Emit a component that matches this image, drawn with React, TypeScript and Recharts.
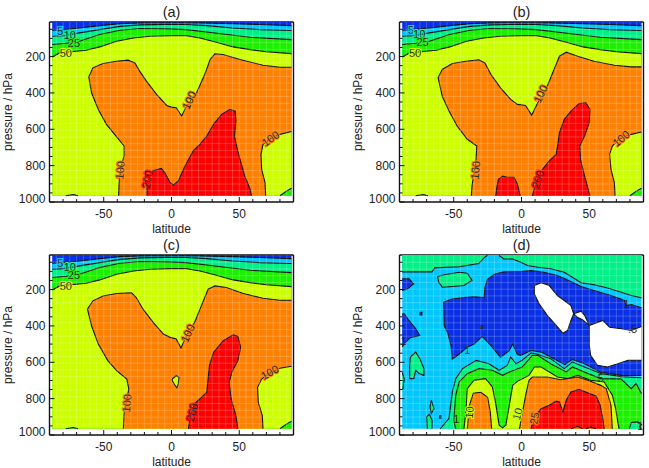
import { ComposedChart, Curve, Scatter, XAxis, YAxis } from 'recharts'

type Pt = number[]
type Tag = [number, number, string, number]

const BLUE = '#0a30e6'
const CYAN = '#00c8ff'
const SPRING = '#00f088'
const GREEN = '#1cf000'
const YELLOW = '#ccff00'
const ORANGE = '#ff8000'
const RED = '#ff0000'
const WHITE = '#ffffff'
const INK = '#222222'
const FONT = '"Liberation Sans", Arial, sans-serif'

const LAT_DOMAIN = [-90, 90]
const P_DOMAIN = [10, 1000]
const LAT_TICKS = [-90, -80, -70, -60, -50, -40, -30, -20, -10, 0, 10, 20, 30, 40, 50, 60, 70, 80, 90]
const LAT_LABELS = [-50, 0, 50]
const P_TICKS = [50, 100, 150, 200, 250, 300, 350, 400, 450, 500, 550, 600, 650, 700, 750, 800, 850, 900, 950, 1000]
const P_LABELS = [200, 400, 600, 800, 1000]

const FIELD: Pt[] = [[-88, 10], [88.5, 10], [88.5, 966], [-88, 966]]
const BELOW: Pt[] = [[88.5, 966], [-88, 966]]
const GRID_LATS = [-85, -80, -75, -70, -65, -60, -55, -50, -45, -40, -35, -30, -25, -20, -15, -10, -5, 0, 5, 10, 15, 20, 25, 30, 35, 40, 45, 50, 55, 60, 65, 70, 75, 80, 85]
const GRID_PS = [50, 87, 124, 161, 198, 235, 272, 309, 346, 383, 420, 457, 494, 531, 568, 605, 642, 679, 716, 753, 790, 827, 864, 901, 938]

// contours shared by (a), (b), (c)
const TOP_5: Pt[] = [[-88, 55], [-80, 52], [-68, 43], [-53, 30], [-38, 19], [-23, 15], [0, 14], [21, 15], [46, 19], [65, 24], [88.5, 30]]
const TOP_10: Pt[] = [[-88, 88], [-78, 85], [-68, 70], [-53, 52], [-38, 34], [-23, 26], [-4, 23], [11, 24], [26, 30], [45, 43], [65, 52], [88.5, 57]]
const TOP_25: Pt[] = [[-88, 134], [-78, 127], [-68, 116], [-53, 79], [-38, 55], [-23, 46], [-4, 48], [11, 52], [26, 65], [41, 79], [58, 94], [88.5, 107]]
const TOP_50: Pt[] = [[-88, 202], [-82.5, 180], [-74, 174], [-63, 165], [-53, 147], [-40.5, 116], [-28, 98], [-16, 88], [0, 85], [11, 85], [21, 98], [33, 121], [45.5, 147], [58, 162], [70, 174], [88.5, 184]]
const LOW_BUMP: Pt[] = [[-78, 966], [-72.5, 959], [-69, 966]]
const LOW_CORNER: Pt[] = [[80, 966], [85, 939], [88.5, 924]]

const A_100: Pt[] = [[-39, 966], [-38.5, 875], [-37, 802], [-35, 747], [-35, 692], [-42, 628], [-48, 573], [-54, 491], [-59, 399], [-61, 312], [-58, 262], [-50.5, 238], [-40.5, 226], [-32, 220], [-27, 235], [-23.5, 280], [-18.5, 335], [-11, 408], [-3.5, 469], [0, 478], [3.5, 482], [7.5, 527], [11, 473], [18.5, 399], [24.5, 299], [28.5, 216], [32, 185], [38, 189], [50.5, 216], [67.5, 248], [80, 259], [88.5, 259]]
const A_100_RIGHT: Pt[] = [[88.5, 612], [80, 628], [72.5, 655], [67.5, 683], [66, 738], [66.5, 820], [69, 893], [69.5, 966]]
const A_200: Pt[] = [[-18, 966], [-18, 911], [-16, 857], [-14, 829], [-7.5, 815], [-5, 838], [-1, 893], [1.5, 906], [5, 884], [10, 802], [16, 719], [21, 683], [26, 637], [31, 573], [37, 518], [43, 491], [47, 500], [47.5, 555], [46.5, 637], [48, 692], [50.5, 765], [54, 857], [58, 930], [59, 966]]
const A_TAGS: Tag[] = [[-82, 58, '5', 0], [-75, 82, '10', 0], [-72, 125, '25', 0], [-78, 182, '50', 0], [13, 440, '100', -65], [73, 650, '100', -35], [-38, 825, '100', -85], [-18, 875, '200', -80]]

const B_100: Pt[] = [[-37, 966], [-36.5, 911], [-33.5, 765], [-33, 692], [-40, 655], [-47.5, 582], [-53.5, 500], [-58.5, 418], [-61.5, 317], [-58.5, 271], [-51, 238], [-41, 226], [-31.5, 218], [-27, 235], [-22.5, 299], [-15.5, 372], [-8, 436], [-3, 463], [3, 469], [7.5, 522], [12, 454], [18, 381], [24, 271], [28, 198], [33, 176], [41.5, 198], [53.5, 226], [68.5, 248], [81, 257], [88.5, 257]]
const B_100_RIGHT: Pt[] = [[88.5, 615], [81, 628], [72, 655], [67, 692], [65, 738], [66, 820], [68.5, 893], [69, 966]]
const B_200_LEFT: Pt[] = [[-19, 966], [-18, 911], [-17, 875], [-14, 858], [-10.5, 864], [-5.5, 864], [-3, 902], [-1, 966]]
const B_200_RIGHT: Pt[] = [[8, 966], [10, 911], [14.5, 829], [20.5, 774], [25.5, 738], [27, 674], [28, 619], [31.5, 546], [36.5, 500], [42.5, 458], [47.5, 454], [50.5, 491], [50, 564], [46.5, 637], [43, 692], [43.5, 765], [46.5, 857], [50.5, 966]]
const B_TAGS: Tag[] = [[-81.5, 52, '5', 0], [-75.5, 78, '10', 0], [-73, 122, '25', 0], [-78.5, 182, '50', 0], [14, 405, '100', -65], [73.5, 650, '100', -40], [-34, 825, '100', -85], [12, 875, '200', -70]]

const C_100: Pt[] = [[-35.5, 966], [-35, 884], [-33.5, 820], [-31.5, 747], [-33, 692], [-40.5, 646], [-47, 591], [-54, 500], [-59, 399], [-62, 308], [-58, 262], [-50.5, 235], [-40.5, 222], [-29.5, 218], [-26, 244], [-21, 308], [-13.5, 381], [-6, 445], [-1, 463], [3.5, 472], [7, 522], [11, 454], [17, 381], [22, 290], [27, 198], [32, 180], [40.5, 189], [53, 222], [67.5, 248], [80, 259], [88.5, 259]]
const C_100_RIGHT: Pt[] = [[88.5, 622], [80, 633], [71.5, 665], [66.5, 692], [63.5, 738], [64, 820], [67, 893], [67.5, 966]]
const C_ISLAND: Pt[] = [[0.5, 692], [3.5, 674], [5.5, 683], [5, 719], [4, 741], [2.5, 725], [0.5, 701], [0.5, 692]]
const C_200: Pt[] = [[12.5, 966], [14, 893], [17, 829], [26, 765], [27, 692], [28, 619], [31, 546], [38, 482], [45.5, 449], [49, 458], [51, 518], [49, 591], [44.5, 655], [42.5, 710], [44, 802], [47.5, 893], [49, 966]]
const C_TAGS: Tag[] = [[-82, 55, '5', 0], [-75, 78, '10', 0], [-72, 122, '25', 0], [-78, 180, '50', 0], [12, 440, '100', -65], [72.5, 655, '100', -30], [-33, 825, '100', -85], [15, 875, '200', -75]]

const D_TOP_LEFT: Pt[] = [[-88, 103], [-74.5, 103], [-66, 103], [-64, 81], [-46, 75], [-31.5, 57], [-27.5, 24], [-25, 11]]
const D_TOP_RIGHT: Pt[] = [[-16.5, 13], [-13, 32], [-6.5, 32], [-0.5, 50], [4.5, 68], [12, 77], [21.5, 86], [31.5, 105], [37.5, 132], [44, 163], [53.5, 174], [63.5, 191], [73.5, 215], [81, 233], [88.5, 246]]
const D_ISLE_TOP: Pt[] = [[-62, 128], [-56, 117], [-46, 105], [-40, 110], [-36.5, 150], [-42.5, 178], [-51, 183], [-58.5, 187], [-61, 160], [-62, 128]]
const D_ISLE_MID: Pt[] = [[-82, 571], [-78, 544], [-75, 580], [-72, 635], [-72, 672], [-75.5, 662], [-78, 644], [-79.5, 690], [-82.5, 690], [-82.5, 617], [-82, 571]]
const D_ISLE_SLIVER: Pt[] = [[-66.5, 809], [-64.5, 855], [-66.5, 882], [-67.5, 845], [-66.5, 809]]
const D_ISLE_LOW: Pt[] = [[-69.5, 966], [-70, 900], [-68, 887], [-66, 918], [-66, 966]]
const D_ISLE_EDGE: Pt[] = [[-88, 655], [-86.5, 692], [-87.5, 747], [-88, 747]]
const D_ISLE_RIGHT: Pt[] = [[79.5, 966], [81, 931], [85.5, 928], [88.5, 942], [87, 955], [88.5, 966]]
const D_BLUE: Pt[] = [[88.5, 673], [73.5, 672], [58.5, 655], [46.5, 608], [37.5, 584], [32, 613], [21.5, 571], [14.5, 544], [7, 535], [-0.5, 562], [-3, 558], [-6.5, 500], [-9, 536], [-15.5, 573], [-22.5, 509], [-29, 458], [-35, 500], [-40, 518], [-47.5, 564], [-51, 582], [-52, 509], [-54.5, 436], [-57, 399], [-57.5, 271], [-52, 253], [-42.5, 244], [-35, 240], [-27.5, 244], [-27, 189], [-25, 143], [-20, 116], [-13, 103], [-0.5, 101], [7, 96], [16.5, 105], [26.5, 123], [34, 147], [44, 183], [53.5, 205], [66, 233], [76, 260], [77, 288], [81, 282], [88.5, 300]]
const D_BLUE_LEFT: Pt[] = [[-88, 334], [-86.5, 334], [-83, 370], [-78, 416], [-75, 452], [-82, 465], [-86.5, 498], [-88, 516]]
const D_BLUE_CORNER: Pt[] = [[-88, 141], [-83, 141], [-79.5, 169], [-84, 196], [-88, 205]]
const D_DOT_A: Pt[] = [[-75, 325], [-73.5, 325], [-73.5, 340], [-75, 340], [-75, 325]]
const D_DOT_B: Pt[] = [[-30, 400], [-29, 400], [-29, 416], [-30, 416], [-30, 400]]
const D_DOT_C: Pt[] = [[-60.5, 893], [-59.5, 893], [-59.5, 907], [-60.5, 907], [-60.5, 893]]
const D_1: Pt[] = [[-60, 966], [-53.5, 910], [-51, 763], [-48.5, 690], [-43.5, 635], [-33.5, 590], [-24, 608], [-16.5, 644], [-10.5, 617], [-8, 571], [-4, 608], [0.5, 589], [7, 549], [10.5, 553], [21.5, 580], [31.5, 635], [37.5, 599], [46.5, 626], [58.5, 662], [73.5, 679], [88.5, 685]]
const D_2: Pt[] = [[-48.5, 966], [-50, 919], [-48.5, 781], [-46, 708], [-40, 663], [-31.5, 635], [-21.5, 644], [-14, 672], [-9, 653], [-5.5, 644], [0.5, 626], [8, 562], [12, 562], [21.5, 608], [33, 653], [37.5, 626], [49, 662], [58.5, 690], [73.5, 692], [81, 745], [84.5, 717], [88.5, 772]]
const D_3: Pt[] = [[-42.5, 966], [-41, 873], [-40, 745], [-35, 699], [-26.5, 690], [-21.5, 736], [-19, 827], [-16.5, 946], [-14, 961], [-11.5, 946], [-9, 836], [-6.5, 727], [-3, 705], [5.5, 672], [9.5, 626], [14.5, 626], [26.5, 681], [34, 690], [41.5, 672], [51, 699], [61, 708], [67, 781], [69.5, 855], [71, 928], [72, 966]]
const D_4_LEFT: Pt[] = [[-40, 966], [-38.5, 838], [-35.5, 770], [-30, 765], [-25, 793], [-23, 875], [-22, 966]]
const D_4_MAIN: Pt[] = [[-1.5, 966], [0.5, 884], [3, 783], [5.5, 699], [8, 681], [19, 681], [29, 696], [41.5, 681], [49, 699], [58.5, 727], [62.5, 745], [66, 836], [67, 966]]
const D_5: Pt[] = [[7, 966], [9.5, 900], [14.5, 855], [20.5, 836], [25.5, 814], [28, 818], [30.5, 873], [33, 809], [36.5, 763], [42.5, 749], [50, 772], [55, 785], [58, 836], [60, 910], [61, 966]]
const D_BUMP_A: Pt[] = [[36.5, 966], [41.5, 953], [45, 966]]
const D_BUMP_B: Pt[] = [[47.5, 966], [51, 957], [55, 966]]
const D_HOLE_A: Pt[] = [[9.5, 178], [14.5, 163], [20.5, 178], [26.5, 233], [31.5, 260], [36.5, 288], [38.5, 333], [36.5, 370], [34, 425], [30.5, 440], [25.5, 397], [19, 342], [13, 278], [9.5, 224], [9.5, 178]]
const D_HOLE_B: Pt[] = [[38.5, 333], [44, 319], [46.5, 342], [50, 397], [45, 366], [41.5, 354], [38.5, 333]]
const D_HOLE_C: Pt[] = [[88.5, 589], [78.5, 589], [71, 608], [63.5, 626], [56, 617], [51, 562], [50, 507], [50, 397], [60, 370], [65, 407], [73.5, 416], [81, 425], [88.5, 403]]
const D_TAGS: Tag[] = [[77.5, 277, '1', 0], [82, 418, '.5', 0], [-40, 533, '1', 0], [58.5, 688, '5', 0], [-48, 911, '1', 0], [-38.5, 875, '10', -85], [-3, 884, '10', -75], [9.5, 908, '25', -80], [-87, 481, '1', 0], [87.5, 952, '1', 0]]

const HALO: Record<string, string> = { '5': CYAN, '10': SPRING, '25': GREEN, '50': YELLOW, '100': ORANGE, '200': RED }
const HALO_D: Record<string, string> = { '10': YELLOW, '25': ORANGE }

const toPoints = (pts: Pt[]) => pts.map(([lat, p]) => ({ lat, p }))
const noDot = () => <g />

function Region({ contour = [], closure = [], fill }: { contour?: Pt[]; closure?: Pt[]; fill?: string }) {
  const drawn = contour.length
  return (
    <Scatter
      data={toPoints([...contour, ...closure])}
      isAnimationActive={false}
      shape={noDot}
      line={(props: any) => (
        <g>
          {fill && <Curve points={props.points} type="linearClosed" fill={fill} stroke="none" />}
          {drawn > 0 && (
            <Curve points={props.points.slice(0, drawn)} type="linear" fill="none" stroke="#111" strokeWidth={1.1} />
          )}
        </g>
      )}
    />
  )
}

// the pale cell edges of the contour fill
function CellLines() {
  const pts = [
    ...GRID_LATS.flatMap((lat) => [[lat, 10], [lat, 966]]),
    ...GRID_PS.flatMap((p) => [[-88, p], [88.5, p]]),
  ]
  return (
    <Scatter
      data={toPoints(pts)}
      isAnimationActive={false}
      shape={noDot}
      line={(props: any) => {
        let d = ''
        props.points.forEach((q: any, i: number) => {
          d += `${i % 2 ? 'L' : 'M'}${q.x} ${q.y}`
        })
        return <path d={d} stroke="#fff" strokeOpacity={0.2} strokeWidth={1} fill="none" />
      }}
    />
  )
}

function Tags({ tags, halo }: { tags: Tag[]; halo: Record<string, string> }) {
  const data = tags.map(([lat, p, text, angle]) => ({ lat, p, text, angle }))
  return (
    <Scatter
      data={data}
      isAnimationActive={false}
      shape={(props: any) => (
        <text
          x={props.cx}
          y={props.cy}
          transform={`rotate(${props.payload.angle} ${props.cx} ${props.cy})`}
          textAnchor="middle"
          dominantBaseline="central"
          fontFamily={FONT}
          fontSize={11}
          fill={INK}
          stroke={halo[props.payload.text] ?? 'none'}
          strokeWidth={2}
          style={{ paintOrder: 'stroke' }}
        >
          {props.payload.text}
        </text>
      )}
    />
  )
}

const latTick = (side: 'bottom' | 'top') => (props: any) => {
  const major = LAT_LABELS.includes(props.payload.value)
  const len = (major ? 5 : 3) * (side === 'bottom' ? -1 : 1)
  return (
    <g>
      <line x1={props.x} x2={props.x} y1={props.y} y2={props.y + len} stroke="#111" />
      {side === 'bottom' && major && (
        <text x={props.x} y={props.y + 16} textAnchor="middle" fontFamily={FONT} fontSize={12} fill={INK}>
          {props.payload.value}
        </text>
      )}
    </g>
  )
}

const pTick = (side: 'left' | 'right') => (props: any) => {
  const major = P_LABELS.includes(props.payload.value)
  const len = (major ? 5 : 3) * (side === 'left' ? 1 : -1)
  return (
    <g>
      <line x1={props.x} x2={props.x + len} y1={props.y} y2={props.y} stroke="#111" />
      {side === 'left' && major && (
        <text
          x={props.x - 4}
          y={props.y + (props.payload.value === 1000 ? 1 : 4)}
          textAnchor="end"
          fontFamily={FONT}
          fontSize={12}
          fill={INK}
        >
          {props.payload.value}
        </text>
      )}
    </g>
  )
}

function Panel({ title, left, top, children }: { title: string; left: number; top: number; children: any }) {
  const frame = { stroke: '#111', strokeWidth: 1.4 }
  const labelStyle = { fontFamily: FONT, fontSize: 12, fill: INK }
  return (
    <div style={{ position: 'absolute', left, top }}>
      <ComposedChart width={310} height={236} margin={{ top: 21, right: 15.5, bottom: 0, left: 0 }}>
        <XAxis
          dataKey="lat"
          type="number"
          domain={LAT_DOMAIN}
          ticks={LAT_TICKS}
          interval={0}
          height={34}
          tickSize={0}
          tickMargin={0}
          axisLine={frame}
          tick={latTick('bottom')}
          label={{ value: 'latitude', position: 'insideBottom', offset: 3, style: labelStyle }}
        />
        <XAxis
          xAxisId="top"
          orientation="top"
          type="number"
          domain={LAT_DOMAIN}
          ticks={LAT_TICKS}
          interval={0}
          height={1}
          tickSize={0}
          tickMargin={0}
          axisLine={frame}
          tick={latTick('top')}
          label={{ value: title, position: 'top', offset: 4, style: { ...labelStyle, fontSize: 14.5 } }}
        />
        <YAxis
          dataKey="p"
          type="number"
          reversed
          domain={P_DOMAIN}
          ticks={P_TICKS}
          interval={0}
          width={49.5}
          tickSize={0}
          tickMargin={0}
          axisLine={frame}
          tick={pTick('left')}
          label={{ value: 'pressure / hPa', angle: -90, position: 'insideLeft', offset: 7.5, style: { ...labelStyle, textAnchor: 'middle' } }}
        />
        <YAxis
          yAxisId="right"
          orientation="right"
          type="number"
          reversed
          domain={P_DOMAIN}
          ticks={P_TICKS}
          interval={0}
          width={1}
          tickSize={0}
          tickMargin={0}
          axisLine={frame}
          tick={pTick('right')}
        />
        {children}
        <CellLines />
      </ComposedChart>
    </div>
  )
}

function Upper() {
  return (
    <>
      <Region closure={FIELD} fill={BLUE} />
      <Region contour={TOP_5} closure={BELOW} fill={CYAN} />
      <Region contour={TOP_10} closure={BELOW} fill={SPRING} />
      <Region contour={TOP_25} closure={BELOW} fill={GREEN} />
      <Region contour={TOP_50} closure={BELOW} fill={YELLOW} />
    </>
  )
}

function Corners() {
  return (
    <>
      <Region contour={LOW_BUMP} fill={GREEN} />
      <Region contour={LOW_CORNER} closure={[[88.5, 966]]} fill={GREEN} />
    </>
  )
}

export default function App() {
  return (
    <div style={{ position: 'absolute', left: 0, top: 0, width: 649, height: 468, background: '#fff', overflow: 'hidden' }}>
      <Panel title="(a)" left={0} top={0}>
        <Upper />
        <Region contour={A_100} closure={A_100_RIGHT} fill={ORANGE} />
        <Region contour={A_100_RIGHT} />
        <Region contour={A_200} fill={RED} />
        <Corners />
        <Tags tags={A_TAGS} halo={HALO} />
      </Panel>
      <Panel title="(b)" left={349.7} top={0}>
        <Upper />
        <Region contour={B_100} closure={B_100_RIGHT} fill={ORANGE} />
        <Region contour={B_100_RIGHT} />
        <Region contour={B_200_LEFT} fill={RED} />
        <Region contour={B_200_RIGHT} fill={RED} />
        <Corners />
        <Tags tags={B_TAGS} halo={HALO} />
      </Panel>
      <Panel title="(c)" left={0} top={232.6}>
        <Upper />
        <Region contour={C_100} closure={C_100_RIGHT} fill={ORANGE} />
        <Region contour={C_100_RIGHT} />
        <Region contour={C_ISLAND} fill={YELLOW} />
        <Region contour={C_200} fill={RED} />
        <Corners />
        <Tags tags={C_TAGS} halo={HALO} />
      </Panel>
      <Panel title="(d)" left={349.7} top={232.6}>
        <Region closure={FIELD} fill={CYAN} />
        <Region contour={D_TOP_LEFT} closure={[[-88, 10]]} fill={SPRING} />
        <Region contour={D_TOP_RIGHT} closure={[[88.5, 10]]} fill={SPRING} />
        <Region contour={D_ISLE_TOP} fill={SPRING} />
        <Region contour={D_ISLE_MID} fill={SPRING} />
        <Region contour={D_ISLE_SLIVER} fill={SPRING} />
        <Region contour={D_ISLE_LOW} fill={SPRING} />
        <Region contour={D_ISLE_EDGE} fill={SPRING} />
        <Region contour={D_BLUE} fill={BLUE} />
        <Region contour={D_BLUE_LEFT} fill={BLUE} />
        <Region contour={D_BLUE_CORNER} fill={BLUE} />
        <Region contour={D_DOT_A} fill={BLUE} />
        <Region contour={D_DOT_B} fill={CYAN} />
        <Region contour={D_DOT_C} fill={BLUE} />
        <Region contour={D_1} closure={[[88.5, 966]]} fill={SPRING} />
        <Region contour={D_2} closure={[[88.5, 966]]} fill={GREEN} />
        <Region contour={D_ISLE_RIGHT} fill={SPRING} />
        <Region contour={D_3} fill={YELLOW} />
        <Region contour={D_4_LEFT} fill={ORANGE} />
        <Region contour={D_4_MAIN} fill={ORANGE} />
        <Region contour={D_5} fill={RED} />
        <Region contour={D_BUMP_A} fill={ORANGE} />
        <Region contour={D_BUMP_B} fill={ORANGE} />
        <Region contour={D_HOLE_A} fill={WHITE} />
        <Region contour={D_HOLE_B} fill={WHITE} />
        <Region contour={D_HOLE_C} fill={WHITE} />
        <Tags tags={D_TAGS} halo={HALO_D} />
      </Panel>
    </div>
  )
}
